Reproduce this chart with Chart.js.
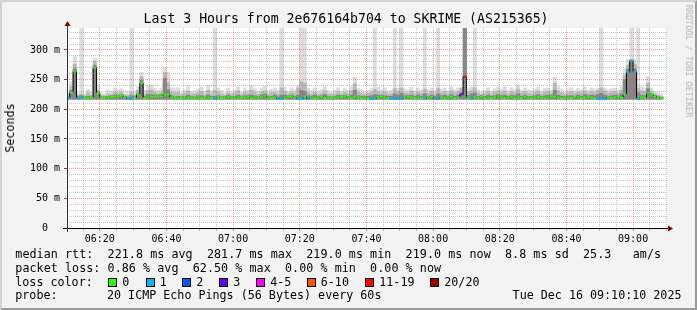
<!DOCTYPE html>
<html>
<head>
<meta charset="utf-8">
<script src="https://cdn.jsdelivr.net/npm/chart.js@4.4.1/dist/chart.umd.min.js"></script>
<style>
  html, body { margin: 0; padding: 0; }
  body {
    width: 697px; height: 310px; position: relative; overflow: hidden;
    background: #f3f3f3; color: #000;
    font-family: "DejaVu Sans Mono", monospace;
  }
  #frame {
    position: absolute; left: 0; top: 0; width: 697px; height: 310px; box-sizing: border-box;
    border-top: 2px solid #d4d4d4; border-left: 2px solid #d4d4d4;
    border-right: 2px solid #9a9a9a; border-bottom: 2px solid #9a9a9a;
    pointer-events: none;
  }
  #chart { position: absolute; left: 0; top: 0; }
  .txt { position: absolute; white-space: pre; font-size: 11.7px; line-height: 14px; }
  .line1 { letter-spacing: 0.06px; }
  .sq { position: absolute; width: 9px; height: 9px; box-sizing: border-box; border: 1px solid #000; }
  #title { position: absolute; left: 143.6px; top: 11.4px; font-size: 13.2px; line-height: 16px; white-space: pre; }
  #ylabel { position: absolute; left: 10px; top: 127.5px; font-size: 11.7px; line-height: 14px;
    transform: translate(-50%, -50%) rotate(-90deg); white-space: pre; }
  #credit { position: absolute; left: 688.5px; top: 61px; font-size: 8.5px; line-height: 10px; color: #b4b4b4;
    transform: translate(-50%, -50%) rotate(90deg); white-space: pre; }
</style>
</head>
<body>
<canvas id="chart" width="697" height="310"></canvas>
<div id="title">Last 3 Hours from 2e676164b704 to SKRIME (AS215365)</div>
<div id="ylabel">Seconds</div>
<div id="credit">RRDTOOL / TOBI OETIKER</div>
<div class="txt line1" style="left:15.3px; top:247.3px">median rtt:  221.8 ms avg  281.7 ms max  219.0 ms min  219.0 ms now  8.8 ms sd  25.3   am/s</div>
<div class="txt line1" style="left:15.3px; top:260.9px">packet loss: 0.86 % avg  62.50 % max  0.00 % min  0.00 % now</div>
<div class="txt" style="left:15.3px; top:274.5px">loss color:</div>
<div id="losslegend"></div>
<div class="txt" style="left:15.3px; top:288.1px">probe:</div>
<div class="txt" style="left:107px; top:288.1px">20 ICMP Echo Pings (56 Bytes) every 60s</div>
<div class="txt" style="left:512.6px; top:288.1px">Tue Dec 16 09:10:10 2025</div>
<div id="frame"></div>
<script>
// time axis in minutes after 06:10; the graph shows 06:10:10 .. 09:10:10, one bin per minute
const viewStart = 10 / 60;
const viewEnd = 180 + 10 / 60;
const timeLabels = ["06:20", "06:40", "07:00", "07:20", "07:40", "08:00", "08:20", "08:40", "09:00"];
const yTickLabels = ["0  ", "50 m", "100 m", "150 m", "200 m", "250 m", "300 m"];
const yMax = 337;
const pingFloor = 217; // bottom of the smoke

// median rtt per minute (ms)
const median = [
  219, 228, 264, 219, 219, 219, 219, 220, 270, 227,
  219, 219, 220, 221, 221, 222, 223, 220, 218, 218,
  219, 225, 244, 219, 220, 222, 222, 222, 222, 225,
  225, 220, 218, 218, 219, 220, 219, 220, 219, 220,
  219, 219, 220, 219, 218, 220, 219, 220, 221, 220,
  220, 219, 220, 220, 221, 219, 220, 219, 221, 223,
  220, 219, 220, 218, 218, 220, 221, 222, 220, 218,
  218, 221, 218, 220, 219, 220, 221, 219, 220, 219,
  220, 220, 221, 222, 220, 219, 221, 220, 219, 220,
  219, 218, 218, 220, 221, 220, 219, 218, 218, 218,
  218, 220, 221, 220, 219, 220, 219, 218, 220, 221,
  218, 218, 220, 219, 220, 221, 219, 220, 225, 255,
  219, 218, 220, 220, 221, 219, 220, 219, 220, 222,
  220, 219, 220, 221, 219, 220, 219, 221, 220, 219,
  220, 221, 220, 219, 220, 222, 221, 220, 219, 220,
  220, 219, 221, 220, 219, 220, 221, 220, 219, 218,
  218, 218, 220, 219, 220, 221, 220, 225, 262, 282,
  263, 218, 220, 220, 227, 225, 222, 220, 218, null
];

// lost pings out of 20 per minute
const lost = [
  1, 0, 0, 1, 1, 0, 0, 0, 0, 0,
  0, 0, 0, 0, 0, 0, 0, 0, 1, 1,
  0, 0, 0, 0, 0, 0, 0, 0, 0, 0,
  0, 0, 0, 0, 0, 0, 0, 0, 0, 0,
  0, 0, 0, 0, 1, 0, 0, 0, 0, 0,
  0, 0, 0, 0, 0, 0, 0, 0, 0, 0,
  0, 0, 0, 1, 1, 0, 0, 0, 0, 1,
  1, 0, 1, 0, 0, 0, 0, 0, 0, 0,
  0, 0, 0, 0, 0, 0, 0, 0, 0, 0,
  0, 1, 1, 0, 0, 0, 0, 1, 1, 1,
  1, 0, 0, 0, 0, 0, 0, 1, 0, 0,
  1, 1, 0, 0, 0, 0, 0, 0, 3, 13,
  0, 1, 0, 0, 0, 0, 0, 0, 0, 0,
  0, 0, 0, 0, 0, 0, 0, 0, 0, 0,
  0, 0, 0, 0, 0, 0, 0, 0, 0, 0,
  0, 0, 0, 0, 0, 0, 0, 0, 0, 1,
  1, 1, 0, 0, 0, 0, 0, 0, 1, 1,
  1, 1, 0, 0, 0, 0, 0, 0, 0, 0
];

// smoke: top of outer (slowest pings), middle and inner bands (ms); 340 = off the top
const smokeMax = [
  230, 247, 289, 228, 340, 226, 234, 229, 286, 240,
  228, 226, 232, 230, 236, 233, 235, 228, 230, 340,
  229, 238, 262, 232, 241, 241, 235, 232, 236, 270,
  262, 236, 236, 236, 229, 233, 240, 230, 231, 234,
  238, 230, 240, 231, 340, 236, 232, 228, 235, 230,
  233, 238, 229, 236, 232, 240, 235, 230, 236, 239,
  231, 234, 236, 232, 340, 237, 230, 236, 233, 240,
  340, 340, 236, 232, 236, 230, 233, 238, 231, 229,
  232, 236, 231, 235, 232, 238, 254, 235, 233, 230,
  232, 235, 340, 237, 233, 236, 231, 232, 340, 236,
  340, 234, 232, 237, 231, 235, 232, 340, 233, 236,
  232, 340, 234, 236, 231, 238, 233, 236, 232, 340,
  235, 238, 340, 233, 230, 232, 236, 231, 235, 238,
  234, 238, 231, 236, 234, 241, 232, 236, 233, 231,
  234, 237, 231, 235, 236, 232, 254, 238, 234, 230,
  234, 236, 232, 235, 233, 238, 232, 236, 234, 236,
  340, 236, 233, 235, 236, 232, 238, 268, 284, 340,
  284, 340, 238, 236, 255, 236, 230, 228, 226, null
];
const smokeHigh = [
  225, 238, 276, 224, 226, 223, 228, 224, 281, 232,
  224, 223, 226, 225, 229, 227, 229, 224, 224, 229,
  224, 232, 255, 226, 232, 233, 229, 227, 229, 262,
  245, 229, 228, 229, 225, 227, 231, 226, 226, 228,
  230, 225, 232, 226, 232, 229, 226, 224, 228, 225,
  227, 231, 225, 229, 227, 232, 229, 225, 229, 231,
  226, 228, 229, 226, 236, 230, 226, 229, 227, 236,
  247, 244, 229, 226, 229, 225, 227, 231, 226, 225,
  226, 230, 226, 229, 227, 231, 243, 229, 227, 225,
  227, 229, 234, 230, 227, 229, 226, 226, 235, 230,
  236, 228, 227, 231, 226, 229, 227, 234, 227, 230,
  226, 235, 228, 230, 226, 231, 228, 230, 236, 340,
  229, 231, 236, 227, 225, 227, 230, 226, 229, 231,
  228, 231, 226, 230, 228, 234, 227, 230, 227, 226,
  228, 231, 226, 229, 230, 227, 244, 231, 228, 225,
  228, 230, 227, 229, 228, 231, 227, 230, 228, 232,
  236, 231, 227, 229, 230, 227, 232, 258, 275, 283,
  276, 236, 231, 230, 244, 230, 226, 224, 222, null
];
const smokeInner = [
  221, 232, 268, 222, 223, 221, 222, 222, 274, 229,
  221, 221, 222, 223, 224, 224, 225, 222, 221, 223,
  221, 227, 249, 222, 225, 225, 224, 224, 225, 252,
  233, 223, 221, 222, 221, 222, 224, 222, 221, 223,
  223, 221, 224, 222, 222, 223, 221, 222, 224, 222,
  222, 224, 222, 223, 223, 224, 223, 221, 224, 226,
  222, 222, 224, 221, 224, 224, 223, 224, 222, 224,
  232, 230, 223, 222, 224, 222, 223, 225, 222, 221,
  222, 224, 223, 224, 222, 224, 232, 223, 222, 222,
  222, 223, 225, 224, 223, 223, 222, 222, 226, 224,
  227, 223, 223, 224, 222, 224, 222, 226, 222, 224,
  222, 226, 223, 224, 222, 225, 222, 224, 228, 340,
  223, 226, 228, 222, 223, 222, 224, 222, 223, 225,
  223, 224, 222, 224, 223, 226, 222, 224, 222, 222,
  223, 225, 222, 223, 224, 224, 232, 224, 222, 222,
  223, 223, 222, 224, 222, 225, 223, 224, 223, 225,
  227, 224, 222, 223, 224, 223, 226, 250, 268, 283,
  268, 228, 224, 223, 235, 226, 223, 222, 220, null
];

// loss colour legend
const lossLabels = ["0", "1", "2", "3", "4-5", "6-10", "11-19", "20/20"];
const lossFrom = [0, 1, 2, 3, 4, 6, 11, 20];
const lossColors = ["#26ff00", "#00b8ff", "#0059ff", "#5e00ff", "#ff00ff", "#ff5500", "#ff0000", "#a10000"];
const lossBoxX = [108, 145.5, 182, 219, 256, 306.5, 365, 430];

function lossColor(n) {
  let c = lossColors[0];
  lossFrom.forEach((f, i) => { if (n >= f) c = lossColors[i]; });
  return c;
}

const legendBox = document.getElementById("losslegend");
lossLabels.forEach((lab, i) => {
  const sq = document.createElement("div");
  sq.className = "sq";
  sq.style.left = lossBoxX[i] + "px";
  sq.style.top = "278px";
  sq.style.background = lossColors[i];
  legendBox.appendChild(sq);
  const t = document.createElement("div");
  t.className = "txt";
  t.style.left = (lossBoxX[i] + 14.3) + "px";
  t.style.top = "274.5px";
  t.textContent = lab;
  legendBox.appendChild(t);
});

const toBars = (arr) => arr.map((v, j) => ({ x: j + 0.5, y: v === null ? null : [pingFloor, v] }));
const toPoints = (arr) => arr.map((v, j) => ({ x: j + 0.5, y: v }));

const xTicks = [];
for (let m = 5; m <= 180; m += 5) xTicks.push(m);
const yTicks = [];
for (let v = 0; v <= 330; v += 10) yTicks.push(v);

const isMajorX = (v) => (v - 10) % 20 === 0;
const isMajorY = (v) => v % 50 === 0;
const majorGrid = "rgba(238, 63, 63, 0.5)";
const minorGrid = "rgba(128, 128, 128, 0.45)";
const tickFont = { family: "DejaVu Sans Mono", size: 10 };

// rrdtool look: white canvas, dotted grid over the data, axes with arrow heads
const rrdFrame = {
  id: "rrdFrame",
  beforeDraw(chart) {
    const { ctx, chartArea: a } = chart;
    ctx.save();
    ctx.fillStyle = "#ffffff";
    ctx.fillRect(a.left, a.top, a.right - a.left, a.bottom - a.top);
    ctx.restore();
  },
  afterDatasetsDraw(chart) {
    const { ctx, chartArea: a, scales } = chart;
    const top = Math.round(a.top), bottom = Math.round(a.bottom);
    const left = Math.round(a.left), right = Math.round(a.right);
    ctx.save();
    xTicks.forEach((v) => {
      const col = Math.round(scales.x.getPixelForValue(v) - 0.5);
      ctx.fillStyle = isMajorX(v) ? majorGrid : minorGrid;
      for (let y = top; y < bottom; y += 2) ctx.fillRect(col, y, 1, 1);
    });
    yTicks.forEach((v) => {
      if (v === 0) return;
      const row = Math.round(scales.y.getPixelForValue(v) - 0.5);
      ctx.fillStyle = isMajorY(v) ? majorGrid : minorGrid;
      for (let x = left; x < right; x += 2) ctx.fillRect(x, row, 1, 1);
    });
    ctx.restore();
  },
  afterDraw(chart) {
    const { ctx, chartArea: a } = chart;
    ctx.save();
    ctx.lineWidth = 1;
    ctx.strokeStyle = "#000";
    ctx.beginPath();
    ctx.moveTo(a.left - 4, a.bottom + 0.5);
    ctx.lineTo(a.right + 3, a.bottom + 0.5);
    ctx.stroke();
    ctx.strokeStyle = "#333";
    ctx.beginPath();
    ctx.moveTo(a.left + 0.5, a.bottom + 4);
    ctx.lineTo(a.left + 0.5, a.top - 3);
    ctx.stroke();
    ctx.fillStyle = "#7f0000";
    ctx.beginPath();
    ctx.moveTo(a.right + 1, a.bottom - 2.5);
    ctx.lineTo(a.right + 6, a.bottom + 0.5);
    ctx.lineTo(a.right + 1, a.bottom + 3.5);
    ctx.closePath();
    ctx.fill();
    ctx.beginPath();
    ctx.moveTo(a.left - 2.5, a.top - 2);
    ctx.lineTo(a.left + 0.5, a.top - 7);
    ctx.lineTo(a.left + 3.5, a.top - 2);
    ctx.closePath();
    ctx.fill();
    ctx.restore();
  }
};

new Chart(document.getElementById("chart"), {
  type: "bar",
  data: {
    datasets: [
      {
        type: "line",
        label: "loss colour",
        data: toPoints(median),
        showLine: false,
        pointStyle: "line",
        pointRadius: 1.67,
        pointBorderWidth: 2,
        pointBorderColor: lost.map(lossColor),
        order: 0,
      },
      {
        type: "line",
        label: "median",
        data: toPoints(median),
        borderColor: "#000",
        borderWidth: 1,
        pointRadius: 0,
        stepped: "middle",
        spanGaps: false,
        order: 1,
      },
      { label: "inner", data: toBars(smokeInner), backgroundColor: "#878787", grouped: false, order: 2 },
      { label: "middle", data: toBars(smokeHigh), backgroundColor: "#b9b9b9", grouped: false, order: 3 },
      { label: "outer", data: toBars(smokeMax), backgroundColor: "#dddddd", grouped: false, order: 4 },
    ],
  },
  options: {
    responsive: false,
    animation: false,
    events: [],
    layout: { padding: { left: 0, top: 28, right: 30, bottom: 0 } },
    datasets: { bar: { barPercentage: 1, categoryPercentage: 1, borderWidth: 0 } },
    plugins: { legend: { display: false }, tooltip: { enabled: false } },
    scales: {
      x: {
        type: "linear",
        min: viewStart,
        max: viewEnd,
        offset: false,
        afterBuildTicks: (s) => { s.ticks = xTicks.map((v) => ({ value: v })); },
        afterFit: (s) => { s.height = 82; },
        grid: {
          offset: false,
          drawOnChartArea: false,
          tickLength: 3,
          tickColor: (c) => (isMajorX(c.tick.value) ? "#e07070" : "#bbbbbb"),
        },
        border: { display: false },
        ticks: {
          autoSkip: false,
          maxRotation: 0,
          padding: 2,
          color: "#000",
          font: tickFont,
          callback: (v) => (isMajorX(v) ? timeLabels[(v - 10) / 20] : ""),
        },
      },
      y: {
        type: "linear",
        min: 0,
        max: yMax,
        afterBuildTicks: (s) => { s.ticks = yTicks.map((v) => ({ value: v })); },
        afterFit: (s) => { s.width = 67; },
        grid: {
          drawOnChartArea: false,
          tickLength: 3,
          tickColor: (c) => (isMajorY(c.tick.value) ? "#555555" : "rgba(0,0,0,0)"),
        },
        border: { display: false },
        ticks: {
          autoSkip: false,
          padding: 4,
          color: "#000",
          font: tickFont,
          callback: (v) => (isMajorY(v) ? yTickLabels[v / 50] : ""),
        },
      },
    },
  },
  plugins: [rrdFrame],
});
</script>
</body>
</html>
